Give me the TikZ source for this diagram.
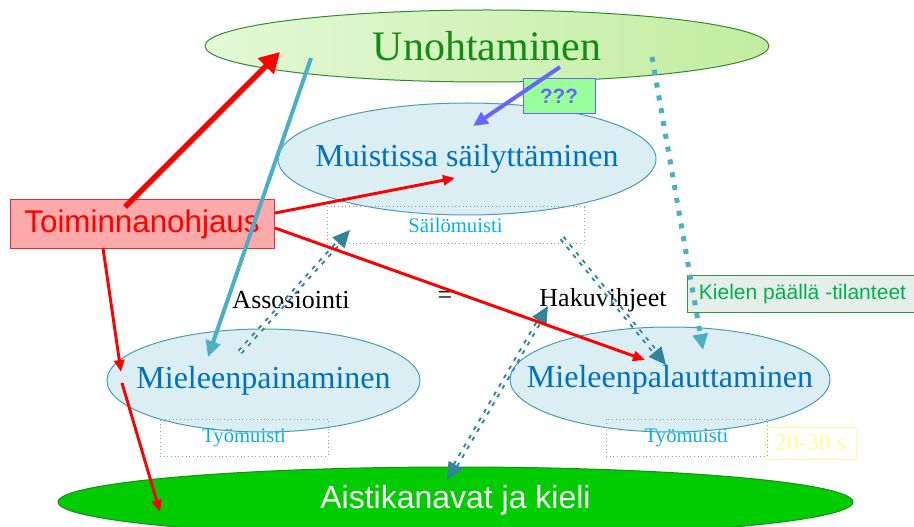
\documentclass[tikz,border=0pt]{standalone}
\usepackage{fontspec}
\setmainfont{Liberation Serif}
\newfontfamily\arialfont{Liberation Sans}
\usetikzlibrary{shapes.geometric,arrows.meta}

\definecolor{unohfillA}{HTML}{E4F8D6}
\definecolor{unohfillB}{HTML}{C2EDA0}
\definecolor{unohline}{HTML}{2E8B2E}
\definecolor{unohtext}{HTML}{148C14}
\definecolor{ellfill}{HTML}{DAEEF3}
\definecolor{ellline}{HTML}{4A9CB2}
\definecolor{elltext}{HTML}{0070C0}
\definecolor{muistext}{HTML}{00B0F0}
\definecolor{pisteline}{HTML}{7FA3B3}
\definecolor{ohjfill}{HTML}{FFAAAA}
\definecolor{ohjline}{HTML}{E03030}
\definecolor{tealA}{HTML}{4BAFC6}
\definecolor{tealB}{HTML}{31849B}
\definecolor{violetti}{HTML}{6666FF}
\definecolor{kysyfill}{HTML}{99FF99}
\definecolor{kielfill}{HTML}{E6EEEA}
\definecolor{kielline}{HTML}{339933}
\definecolor{kieltext}{HTML}{00B050}
\definecolor{keltainen}{HTML}{FFFF99}
\definecolor{aistifill}{HTML}{00CC00}
\definecolor{aistiline}{HTML}{1E8C1E}

\tikzset{every picture/.style={line width=0.75pt}}
\tikzset{
  soikio/.style={ellipse, draw=ellline, fill=ellfill, inner sep=0pt},
  soikioteksti/.style={text=elltext, font=\fontsize{24}{28}\selectfont},
  pistelaatikko/.style={draw=pisteline, dotted, inner sep=0pt, text=muistext, font=\fontsize{15.5}{18}\selectfont},
  punainen/.style={draw=red, line width=2.2pt, -{Triangle[length=9pt,width=7.5pt]}},
  tummakatko/.style={draw=tealB, double=white, double distance=1.3pt, line width=1.5pt,
    dash pattern=on 3pt off 4.5pt, -{Triangle[length=13pt,width=12pt]}},
  selite/.style={font=\fontsize{19.5}{22}\selectfont}
}

\begin{document}
\begin{tikzpicture}[x=0.75pt,y=0.75pt,yscale=-1,xscale=1]
	\useasboundingbox (0,0) rectangle (914,527);

	%Shape: Ellipse
	\node[ellipse, draw=unohline, left color=unohfillA, right color=unohfillB, inner sep=0pt,
	  minimum width=423pt, minimum height=54pt,
	  label={[text=unohtext, font=\fontsize{31.5}{36}\selectfont]center:Unohtaminen}] (unoh) at (487,46) {};
	%Shape: Ellipse
	\node[soikio, minimum width=283.5pt, minimum height=84pt,
	  label={[soikioteksti]center:Muistissa säilyttäminen}] (muis) at (467,159) {};
	%Shape: Ellipse
	\node[soikio, minimum width=234.75pt, minimum height=77.25pt,
	  label={[soikioteksti]center:Mieleenpainaminen}] (paina) at (263.5,380.5) {};
	%Shape: Ellipse
	\node[soikio, minimum width=240pt, minimum height=78.75pt,
	  label={[soikioteksti]center:Mieleenpalauttaminen}] (palau) at (670,379.5) {};
	%Shape: Ellipse
	\node[ellipse, draw=aistiline, fill=aistifill, inner sep=0pt, minimum width=596.25pt, minimum height=52.5pt,
	  label={[text=white, font=\arialfont\fontsize{24}{28}\selectfont, yshift=1.5pt]center:Aistikanavat ja kieli}] (aisti) at (455.5,502) {};

	%Shape: Rectangle
	\node[pistelaatikko, minimum width=192.75pt, minimum height=27.75pt] (sailo) at (455.5,225.5) {Säilömuisti};
	%Shape: Rectangle
	\node[pistelaatikko, minimum width=126pt, minimum height=27.75pt] (tyo1) at (244,437.5) {Työmuisti};
	%Shape: Rectangle
	\node[pistelaatikko, minimum width=120.75pt, minimum height=27.75pt] (tyo2) at (686.5,437.5) {Työmuisti};
	%Shape: Rectangle
	\node[draw=keltainen, text=keltainen, inner sep=0pt, minimum width=68.25pt, minimum height=24pt,
	  font=\fontsize{18}{20}\selectfont] (aika) at (810.5,443) {20-30 s};
	%Shape: Rectangle
	\node[draw=ohjline, fill=ohjfill, text=red, inner sep=0pt, minimum width=198pt, minimum height=36.75pt,
	  font=\arialfont\fontsize{23.5}{26}\selectfont] (toim) at (142,224.5) {Toiminnanohjaus};
	%Shape: Rectangle
	\node[draw=kielline, fill=kielfill, text=kieltext, inner sep=0pt, minimum width=170.25pt, minimum height=27.75pt,
	  font=\arialfont\fontsize{15.8}{18}\selectfont] (kiel) at (800.5,294.5) {\hspace{3pt}Kielen päällä -tilanteet};
	%Shape: Rectangle
	\node[draw=violetti, fill=kysyfill, text=violetti, inner sep=0pt, minimum width=54pt, minimum height=26.25pt,
	  font=\arialfont\bfseries\fontsize{15.5}{18}\selectfont] (kysy) at (559,96.5) {???\hspace{20pt}};

	% Text Node
	\node[selite] (asso) at (291,300) {Assosiointi};
	% Text Node
	\node[selite] (yhtak) at (445,298) {=};
	% Text Node
	\node[selite] (haku) at (603,300) {Hakuvihjeet};

	% end points
	\coordinate (t1) at (125,207);  \coordinate (u1) at (280,52);
	\coordinate (t2) at (275,213);  \coordinate (m1) at (455,178);
	\coordinate (t3) at (275,228);  \coordinate (p1) at (645,360);
	\coordinate (t4) at (103,248);  \coordinate (e1) at (121,372);
	\coordinate (e2) at (122,383);  \coordinate (a1) at (160,512);
	\coordinate (u2) at (311,58);   \coordinate (e3) at (208,357);
	\coordinate (u3) at (652,57);   \coordinate (p2) at (703,350);
	\coordinate (u4) at (560,67);   \coordinate (m2) at (473,126);
	\coordinate (e4) at (240,352);  \coordinate (s1) at (350,230);
	\coordinate (s2) at (562,238);  \coordinate (p3) at (666,365);
	\coordinate (a2) at (447,480);  \coordinate (h1) at (548,306);

	%Straight Lines
	\draw[tealA, line width=3pt, -{Triangle[length=12pt,width=11pt]}] (u2) -- (e3);
	%Straight Lines
	\draw[tealA, line width=3.75pt, dash pattern=on 3.75pt off 6pt, -{Triangle[length=12pt,width=11pt]}] (u3) -- (p2);
	%Straight Lines
	\draw[tummakatko] (e4) -- (s1);
	\draw[tummakatko] (s2) -- (p3);
	\draw[tummakatko, {Triangle[length=13pt,width=12pt]}-{Triangle[length=13pt,width=12pt]}] (a2) -- (h1);
	%Straight Lines
	\draw[violetti, line width=3pt, -{Triangle[length=11pt,width=10pt]}] (u4) -- (m2);
	%Straight Lines
	\draw[red, line width=4pt, -{Triangle[length=15pt,width=16pt]}] (t1) -- (u1);
	\draw[punainen] (t2) -- (m1);
	\draw[punainen] (t3) -- (p1);
	\draw[punainen] (t4) -- (e1);
	\draw[punainen] (e2) -- (a1);

\end{tikzpicture}
\end{document}
